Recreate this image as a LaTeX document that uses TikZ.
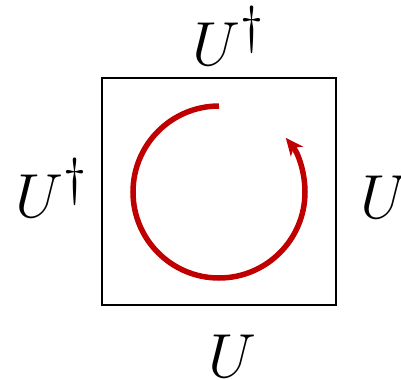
\documentclass[tikz,border=0pt]{standalone}
\usetikzlibrary{arrows.meta}
\definecolor{arcred}{HTML}{C00000}
\begin{document}
\begin{tikzpicture}[x=0.4pt,y=-0.4pt,
  lbl/.style={inner sep=0pt,anchor=base,font=\Huge},
  frame/.style={draw=black,line width=0.55pt},
  loop/.style={draw=arcred,line width=2.2pt,-{Stealth[length=7pt,width=6.2pt,inset=2pt]}}]
\useasboundingbox (0,0) rectangle (401,380);
\node[frame,minimum width=93.6pt,minimum height=90.8pt,inner sep=0pt] (sq) at (219,191.5) {};
\coordinate (c) at (219,192);
\draw[loop] (219,106) arc[start angle=90,end angle=399,radius=34.4pt];
\node[lbl] (top) at (228.5,65) {$U^\dagger$};
\node[lbl] (left) at (51.5,217) {$U^\dagger$};
\node[lbl] (right) at (384,219) {$U$};
\node[lbl] (bottom) at (232,377) {$U$};
\end{tikzpicture}
\end{document}
